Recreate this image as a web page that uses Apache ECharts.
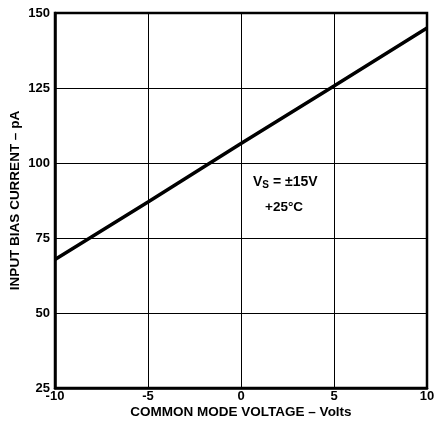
<!DOCTYPE html>
<html><head><meta charset="utf-8">
<script src="https://cdn.jsdelivr.net/npm/echarts@6/dist/echarts.min.js"></script>
<style>html,body{margin:0;padding:0;background:#fff;}#c{width:434px;height:427px;}</style>
</head><body><div id="c"></div>
<script>
const voltage = [-10, -5, 0, 5, 10];
const biasCurrent = [67.8, 87, 106.5, 125.7, 145];
const xTicks = [-10, -5, 0, 5, 10];
const yTicks = [25, 50, 75, 100, 125, 150];
const FONT = '"Liberation Sans", Arial, sans-serif';
const chart = echarts.init(document.getElementById('c'));
chart.setOption({
  animation: false,
  backgroundColor: '#fff',
  grid: {left: 55, right: 7, top: 13, bottom: 39, containLabel: false, outerBoundsMode: 'none',
    show: true, borderColor: '#000', borderWidth: 2.5, backgroundColor: 'transparent'},
  xAxis: {
    type: 'value', min: -10, max: 10, interval: 5,
    name: 'COMMON MODE VOLTAGE – Volts', nameLocation: 'middle', nameGap: 17, nameMoveOverlap: false,
    nameTextStyle: {color: '#000', fontFamily: FONT, fontWeight: 'bold', fontSize: 13.5},
    axisLine: {show: true, onZero: false, lineStyle: {color: '#000', width: 2.5}},
    axisTick: {show: false},
    axisLabel: {color: '#000', fontFamily: FONT, fontWeight: 'bold', fontSize: 13, margin: 2,
      formatter: v => xTicks.includes(v) ? String(v) : ''},
    splitLine: {show: true, lineStyle: {color: '#000', width: 1}}
  },
  yAxis: {
    type: 'value', min: 25, max: 150, interval: 25,
    name: 'INPUT BIAS CURRENT – pA', nameLocation: 'middle', nameGap: 33, nameMoveOverlap: false,
    nameTextStyle: {color: '#000', fontFamily: FONT, fontWeight: 'bold', fontSize: 13.5},
    axisLine: {show: true, onZero: false, lineStyle: {color: '#000', width: 2.5}},
    axisTick: {show: false},
    axisLabel: {color: '#000', fontFamily: FONT, fontWeight: 'bold', fontSize: 13, margin: 5,
      formatter: v => yTicks.includes(v) ? String(v) : ''},
    splitLine: {show: true, lineStyle: {color: '#000', width: 1}}
  },
  series: [{
    type: 'line', data: voltage.map((x, i) => [x, biasCurrent[i]]),
    showSymbol: false, lineStyle: {color: '#000', width: 3.5}
  }],
  graphic: [{
    type: 'text', left: 253, top: 175,
    style: {
      text: '{v|V}{s|S}{v| = ±15V}\n{c|+25°C}',
      rich: {
        v: {fontFamily: FONT, fontWeight: 'bold', fontSize: 14, fill: '#000'},
        s: {fontFamily: FONT, fontWeight: 'bold', fontSize: 10, fill: '#000', verticalAlign: 'bottom', padding: [7, 0, 0, 0]},
        c: {fontFamily: FONT, fontWeight: 'bold', fontSize: 13.5, fill: '#000', padding: [10, 0, 0, 12]}
      }
    }
  }]
});
</script></body></html>
